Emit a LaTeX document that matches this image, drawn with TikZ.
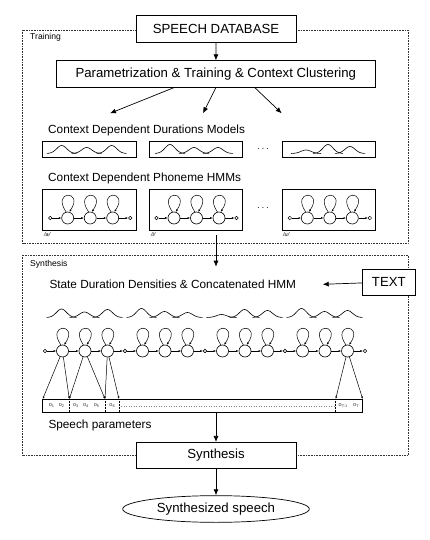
\documentclass[tikz,border=0pt]{standalone}
\usepackage{fontspec}
\setmainfont{Liberation Sans}
\usetikzlibrary{arrows.meta,shapes.geometric}

\tikzset{
  box/.style={draw,line width=0.7pt,fill=white,inner sep=0pt},
  dotframe/.style={densely dotted,line width=0.6pt,black!80},
  arr/.style={line width=0.7pt,-{Latex[length=6pt,width=5pt]}},
  hmmarr/.style={line width=0.5pt,-{Latex[length=2.5pt,width=2pt]}},
  state/.style={circle,draw,line width=0.6pt,fill=white,minimum size=12pt,inner sep=0pt},
  dot/.style={circle,draw,line width=0.5pt,fill=white,minimum size=3.6pt,inner sep=0pt},
  dens/.style={line width=0.6pt},
  big/.style={font=\fontsize{13.2}{15}\selectfont},
  lab/.style={anchor=west,inner sep=0pt,font=\fontsize{11.8}{14}\selectfont},
  olab/.style={inner sep=0pt,font=\fontsize{5.5}{6}\selectfont,black!80},
  plab/.style={anchor=west,inner sep=0pt,font=\fontsize{5.5}{6}\itshape},
}

% ONE LEFT-TO-RIGHT HMM : name prefix, x of first small circle, y
\newcommand{\hmmchain}[3]{%
  \node[dot] (#1s) at (#2,#3) {};
  \node[dot] (#1e) at ({#2+80},#3) {};
  \foreach \k in {1,2,3}{
    \node[state] (#1\k) at ({#2+17.5+22.5*(\k-1)},#3) {};
    \draw[hmmarr] (#1\k.105) .. controls +(-15,-22) and +(15,-22) .. (#1\k.75);
  }
  \draw[hmmarr] (#1s) -- (#11);
  \draw[hmmarr] (#11) -- (#12);
  \draw[hmmarr] (#12) -- (#13);
  \draw[hmmarr] (#13) -- (#1e);
}

% THREE DURATION DENSITIES : x of first peak, baseline y, spacing, heights
\newcommand{\durs}[6]{%
  \foreach \h [count=\i from 0] in {#4,#5,#6}
    \draw[dens] plot[domain=-15:15,smooth,samples=25] ({#1+\i*#3+\x},{#2-\h*exp(-\x*\x/50)});
}

\begin{document}
\begin{tikzpicture}[x=1pt,y=-1pt]
  \useasboundingbox (0,0) rectangle (430,540);

  %FRAMES
  \draw[dotframe] (22.7,30) rectangle (408,243.3);
  \draw[dotframe] (22.7,255) rectangle (408,455);
  \node[anchor=west,inner sep=0pt,font=\fontsize{8.6}{10}\selectfont] (trainlab) at (30,37.7) {Training};
  \node[anchor=west,inner sep=0pt,font=\fontsize{8.6}{10}\selectfont] (synlab) at (30,264) {Synthesis};

  %TRAINING PART
  \node[box,big,minimum width=160pt,minimum height=27pt] (db) at (216,29.2) {SPEECH DATABASE};
  \node[box,big,minimum width=319.7pt,minimum height=26.6pt] (param) at (215.85,74) {Parametrization \& Training \& Context Clustering};
  \draw[arr] (db) -- (param);
  \coordinate (d1) at (110,113.3);
  \coordinate (d2) at (203,113.3);
  \coordinate (d3) at (281.7,113.3);
  \draw[arr] ([xshift=-42pt]param.south) -- (d1);
  \draw[arr] (param.south) -- (d2);
  \draw[arr] ([xshift=39pt]param.south) -- (d3);

  \node[lab] (durtitle) at (48,130) {Context Dependent Durations Models};
  \node[box,minimum width=93.3pt,minimum height=16.7pt] (dur1) at (89.35,149.35) {};
  \node[box,minimum width=93.3pt,minimum height=16.7pt] (dur2) at (195.65,149.35) {};
  \node[box,minimum width=93.3pt,minimum height=16.7pt] (dur3) at (329,149.35) {};
  \node[inner sep=0pt] (durdots) at (263,149.5) {$\cdots$};
  \durs{61.7}{153.5}{25}{8}{6}{8}
  \durs{170}{153.5}{24}{9}{6}{6}
  \durs{306}{153.5}{22}{3.5}{9}{7}

  \node[lab] (hmmtitle) at (48,178.3) {Context Dependent Phoneme HMMs};
  \node[box,minimum width=93.3pt,minimum height=41pt] (hmm1) at (89.35,209.5) {};
  \node[box,minimum width=93.3pt,minimum height=41pt] (hmm2) at (195.65,209.5) {};
  \node[box,minimum width=93.3pt,minimum height=41pt] (hmm3) at (329,209.5) {};
  \node[inner sep=0pt] (hmmdots) at (263,208.5) {$\cdots$};
  \hmmchain{a}{50.2}{218}
  \hmmchain{i}{156.5}{218}
  \hmmchain{u}{289.8}{218}
  \node[plab] (pa) at (44,234.5) {/a/};
  \node[plab] (pi) at (151,234.5) {/i/};
  \node[plab] (pu) at (283,234.5) {/u/};

  %TRAINING -> SYNTHESIS
  \coordinate (tr) at (216,235);
  \coordinate (sy) at (216,266.7);
  \draw[arr] (tr) -- (sy);

  %SYNTHESIS PART
  \node[lab] (sdtitle) at (49.3,284.3) {State Duration Densities \& Concatenated HMM};
  \node[box,big,minimum width=52.3pt,minimum height=26pt] (text) at (388.85,282) {TEXT};
  \coordinate (tx) at (322.7,284.3);
  \draw[arr] (text) -- (tx);

  \durs{61.5}{317.5}{23}{8.5}{5.5}{8}
  \durs{141.5}{317.5}{23}{9}{6}{5}
  \durs{221.5}{317.5}{23}{3}{8}{7}
  \durs{301.5}{317.5}{23}{9}{6}{7}

  \hmmchain{p}{45}{351}
  \hmmchain{q}{125}{351}
  \hmmchain{r}{205}{351}
  \hmmchain{t}{285}{351}

  % SPEECH PARAMETER VECTOR
  \node[box,minimum width=320pt,minimum height=13.3pt] (par) at (202.7,405.65) {};
  \foreach \xx in {69.3,105,119,335.7}
    \draw[densely dotted,line width=0.5pt] (\xx,399) -- (\xx,412.3);
  \draw[dotted,line width=0.5pt,black!50] (121,406.7) -- (334,406.7);
  \node[olab] (o1) at (51.7,406) {o\textsubscript{1}};
  \node[olab] (o2) at (61.7,406) {o\textsubscript{2}};
  \node[olab] (o3) at (76,406) {o\textsubscript{3}};
  \node[olab] (o4) at (86,406) {o\textsubscript{4}};
  \node[olab] (o5) at (96.7,406) {o\textsubscript{5}};
  \node[olab] (o6) at (112.3,406) {o\textsubscript{6}};
  \node[olab] (oT1) at (343.3,406) {o\textsubscript{T-1}};
  \node[olab] (oT) at (356,406) {o\textsubscript{T}};

  \coordinate (b0) at (42.7,399);
  \coordinate (b1) at (69.3,399);
  \coordinate (b2) at (105,399);
  \coordinate (b3) at (119,399);
  \coordinate (b4) at (335.7,399);
  \coordinate (b5) at (362.7,399);
  \draw[hmmarr] (p1) -- (b0);
  \draw[hmmarr] (p1) -- (b1);
  \draw[hmmarr] (p2) -- (b1);
  \draw[hmmarr] (p2) -- (b2);
  \draw[hmmarr] (p3) -- (b2);
  \draw[hmmarr] (p3) -- (b3);
  \draw[hmmarr] (t3) -- (b4);
  \draw[hmmarr] (t3) -- (b5);

  \node[lab] (sptitle) at (48.3,425) {Speech parameters};

  %OUTPUT
  \node[box,big,minimum width=160pt,minimum height=26pt] (synth) at (216,455.3) {Synthesis};
  \draw[arr] (par.south -| synth.north) -- (synth);
  \node[ellipse,draw,big,line width=0.7pt,inner sep=0pt,minimum width=186.7pt,minimum height=26.7pt] (speech) at (216,509) {Synthesized speech};
  \draw[arr] (synth) -- (speech);
\end{tikzpicture}
\end{document}
